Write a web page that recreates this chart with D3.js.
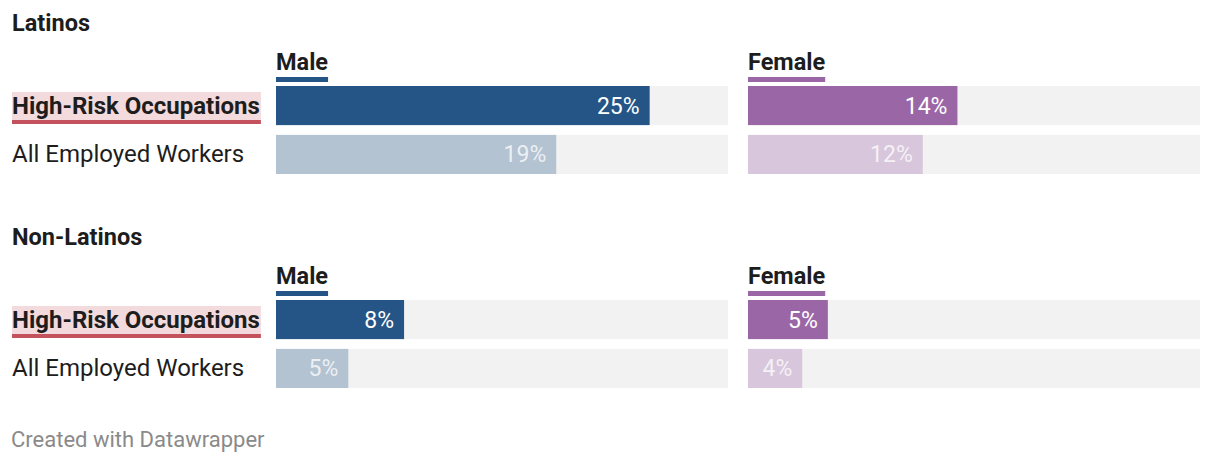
<!DOCTYPE html>
<html><head><meta charset="utf-8">
<script src="https://cdn.jsdelivr.net/npm/d3@7"></script>
<style>
body{margin:0;background:#fff;font-family:Roboto,"Noto Sans",sans-serif;}
</style></head>
<body><svg id="c" width="1220" height="464"></svg>
<script>
const groups = ["Latinos", "Non-Latinos"];
const rows = ["High-Risk Occupations", "All Employed Workers"];
const panels = ["Male", "Female"];
const maleValues = [[24.8, 18.6], [8.5, 4.8]];
const femaleValues = [[13.9, 11.6], [5.3, 3.6]];
const valueLabels = {Male: [["25%", "19%"], ["8%", "5%"]], Female: [["14%", "12%"], ["5%", "4%"]]};
const footer = "Created with Datawrapper";

const svg = d3.select("#c");
const panelX = {Male: 276, Female: 748};
const panelW = 452;
const x = d3.scaleLinear().domain([0, 30]).range([0, panelW]);
const colors = {Male: ["#245586", "#b3c3d2"], Female: ["#9b66a6", "#d8c7dc"]};
const groupTop = [0, 214];
const rowY = d3.scaleBand().domain(rows).range([86, 174]).paddingInner(0.2).paddingOuter(0);

groups.forEach((g, gi) => {
  const gy = svg.append("g").attr("transform", `translate(0,${groupTop[gi]})`);
  gy.append("text").attr("x", 12).attr("y", 31).text(g)
    .attr("font-size", 23.5).attr("font-weight", 700).attr("fill", "#1d1d1d");
  rows.forEach((r, ri) => {
    const y = rowY(r), h = rowY.bandwidth();
    const hl = gy.append("g");
    const t = gy.append("text").attr("x", 12).attr("y", y + h / 2 + 8).text(r)
      .attr("font-size", 24).attr("font-weight", ri === 0 ? 700 : 400).attr("fill", "#1d1d1d");
    if (ri === 0) {
      const tw = t.node().getComputedTextLength();
      hl.append("rect").attr("x", 12).attr("y", y + 6).attr("width", tw + 1).attr("height", 29).attr("fill", "#f3dadc");
      hl.append("rect").attr("x", 12).attr("y", y + 34).attr("width", tw + 1).attr("height", 4).attr("fill", "#c4525c");
    }
  });
  panels.forEach(p => {
    const px = panelX[p];
    const vals = p === "Male" ? maleValues[gi] : femaleValues[gi];
    const pg = gy.append("g").attr("transform", `translate(${px},0)`);
    const ht = pg.append("text").attr("x", 0).attr("y", 70).text(p)
      .attr("font-size", 23.5).attr("font-weight", 700).attr("fill", "#1d1d1d");
    const tw = ht.node().getComputedTextLength();
    pg.append("rect").attr("x", 0).attr("y", 77).attr("width", tw).attr("height", 5).attr("fill", colors[p][0]);
    rows.forEach((r, ri) => {
      const y = rowY(r), h = rowY.bandwidth();
      pg.append("rect").attr("x", 0).attr("y", y).attr("width", x(30)).attr("height", h).attr("fill", "#f2f2f2");
      pg.append("rect").attr("x", 0).attr("y", y).attr("width", x(vals[ri])).attr("height", h).attr("fill", colors[p][ri]);
      pg.append("text").attr("x", x(vals[ri]) - 10).attr("y", y + h / 2 + 8)
        .attr("text-anchor", "end").text(valueLabels[p][gi][ri])
        .attr("font-size", 23).attr("fill", "#fff").attr("fill-opacity", ri === 0 ? 1 : 0.75);
    });
  });
});
svg.append("text").attr("x", 11).attr("y", 447).text(footer)
  .attr("font-size", 22).attr("fill", "#8a8a8a");
</script></body></html>
